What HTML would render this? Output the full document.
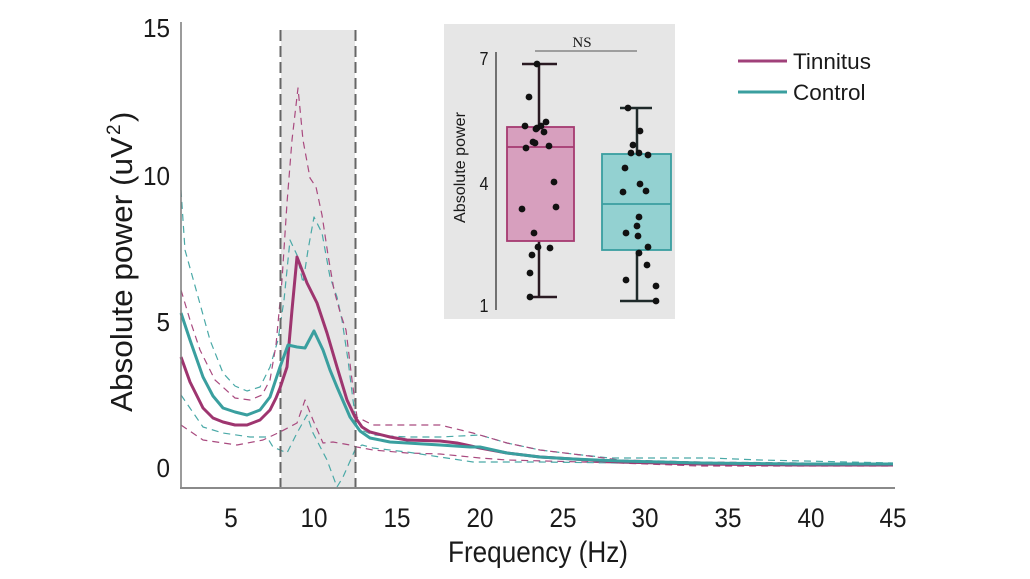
<!DOCTYPE html>
<html>
<head>
<meta charset="utf-8">
<style>
  html,body{margin:0;padding:0;background:#fff;}
  svg{display:block;}
  text{font-family:"Liberation Sans",Arial,sans-serif;fill:#1a1a1a;}
</style>
</head>
<body>
<svg width="1030" height="579" viewBox="0 0 1030 579" xmlns="http://www.w3.org/2000/svg">
  <rect x="0" y="0" width="1030" height="579" fill="#fff"/>

  <rect x="281" y="30" width="74" height="458" fill="#e6e6e6"/>

  <g fill="none" stroke-width="1.2" stroke-dasharray="7,5" stroke-linejoin="round">
    <polyline stroke="#4aa9a7" points="181,190 185,250 197,293 210,340 223,373 235,386 247,391 260,387 270,367 278,340 284,300 290,240 297,255 303,283 308,250 314,217 322,233 330,277 337,297 342,320 348,360 353,400 357,428 373,435 407,437 440,437 480,435 507,443 540,450 573,454 610,458 710,458 760,460 893,463"/>
    <polyline stroke="#a94a7f" points="181,290 190,320 200,350 215,380 235,398 250,400 262,395 270,380 276,345 282,280 287,203 292,140 298,88 303,140 310,178 316,187 322,215 328,255 334,290 340,312 346,330 352,380 357,417 373,425 440,425 473,433 507,443 540,450 573,454 620,460 700,462 800,463 893,465"/>
    <polyline stroke="#a94a7f" points="181,425 203,440 237,445 263,440 280,432 297,423 305,400 313,420 323,443 333,442 350,445 357,447 373,450 407,453 440,454 480,458 507,460 620,463 700,466 893,466"/>
    <polyline stroke="#4aa9a7" points="181,395 203,427 223,433 250,437 267,437 273,447 287,453 297,433 307,415 313,433 327,460 337,487 343,477 355,450 362,445 373,448 407,452 440,457 473,462 540,462 620,463 893,465"/>
  </g>

  <line x1="280.5" y1="30" x2="280.5" y2="488" stroke="#666" stroke-width="2" stroke-dasharray="11,5"/>
  <line x1="355.5" y1="30" x2="355.5" y2="488" stroke="#666" stroke-width="2" stroke-dasharray="11,5"/>

  <polyline fill="none" stroke="#9e356f" stroke-width="3" stroke-linejoin="round" points="181,357 190,382 203,408 213,418 223,422 235,425 247,425 260,420 270,410 276,398 280,388 287,367 292,310 297,257 302,270 307,283 317,303 327,333 337,367 347,400 355,417 362,427 370,432 390,437 407,440 440,441 457,443 480,448 507,453 540,457 573,459 620,462 700,464 800,465 893,465"/>
  <polyline fill="none" stroke="#3a9f9f" stroke-width="3" stroke-linejoin="round" points="181,313 190,340 203,377 213,396 223,408 235,412 247,415 260,410 270,397 280,367 288,345 297,347 305,348 314,331 323,350 330,370 337,387 350,417 360,431 370,438 390,442 407,443 440,445 470,447 480,447 507,453 540,457 573,459 620,461 700,463 800,464 893,464"/>

  <line x1="181" y1="22" x2="181" y2="489" stroke="#7a7a7a" stroke-width="1.5"/>
  <line x1="180" y1="488" x2="895" y2="488" stroke="#8a8a8a" stroke-width="2"/>

  <g font-size="26" text-anchor="end">
    <text x="170" y="37" textLength="27" lengthAdjust="spacingAndGlyphs">15</text>
    <text x="170" y="185" textLength="27" lengthAdjust="spacingAndGlyphs">10</text>
    <text x="170" y="331" textLength="13.5" lengthAdjust="spacingAndGlyphs">5</text>
    <text x="170" y="477" textLength="13.5" lengthAdjust="spacingAndGlyphs">0</text>
  </g>

  <g font-size="27" text-anchor="middle">
    <text x="231" y="527" textLength="13.5" lengthAdjust="spacingAndGlyphs">5</text>
    <text x="314" y="527" textLength="27" lengthAdjust="spacingAndGlyphs">10</text>
    <text x="397" y="527" textLength="27" lengthAdjust="spacingAndGlyphs">15</text>
    <text x="480" y="527" textLength="27" lengthAdjust="spacingAndGlyphs">20</text>
    <text x="563" y="527" textLength="27" lengthAdjust="spacingAndGlyphs">25</text>
    <text x="645" y="527" textLength="27" lengthAdjust="spacingAndGlyphs">30</text>
    <text x="728" y="527" textLength="27" lengthAdjust="spacingAndGlyphs">35</text>
    <text x="811" y="527" textLength="27" lengthAdjust="spacingAndGlyphs">40</text>
    <text x="893" y="527" textLength="27" lengthAdjust="spacingAndGlyphs">45</text>
  </g>

  <text x="448" y="562" font-size="30" textLength="180" lengthAdjust="spacingAndGlyphs">Frequency (Hz)</text>
  <g transform="translate(132,412) rotate(-90)">
    <text x="0" y="0" font-size="31" textLength="275" lengthAdjust="spacingAndGlyphs">Absolute power (uV</text>
    <text x="277" y="-12" font-size="19">2</text>
    <text x="290" y="0" font-size="31">)</text>
  </g>

  <line x1="738" y1="61" x2="787" y2="61" stroke="#a0407a" stroke-width="3"/>
  <line x1="738" y1="92" x2="787" y2="92" stroke="#3a9f9f" stroke-width="3"/>
  <text x="793" y="69" font-size="22.5">Tinnitus</text>
  <text x="793" y="100" font-size="22.5">Control</text>

  <rect x="444" y="24" width="231" height="295" fill="#e6e6e6"/>
  <line x1="496" y1="52" x2="496" y2="310" stroke="#333" stroke-width="1.3"/>
  <g font-size="18" text-anchor="middle">
    <text x="484" y="65" textLength="9" lengthAdjust="spacingAndGlyphs">7</text>
    <text x="484" y="190" textLength="9" lengthAdjust="spacingAndGlyphs">4</text>
    <text x="484" y="312" textLength="9" lengthAdjust="spacingAndGlyphs">1</text>
  </g>
  <text transform="translate(465,223) rotate(-90)" x="0" y="0" font-size="15.5" textLength="111" lengthAdjust="spacingAndGlyphs">Absolute power</text>
  <text x="582" y="47" font-size="15" text-anchor="middle" style="font-family:'Liberation Serif',serif">NS</text>
  <line x1="535" y1="51" x2="637" y2="51" stroke="#555" stroke-width="1"/>

  <g stroke="#2a1a22" stroke-width="2.5">
    <line x1="539" y1="64" x2="539" y2="297"/>
    <line x1="522" y1="64" x2="557" y2="64"/>
    <line x1="527" y1="297" x2="557" y2="297"/>
  </g>
  <rect x="507" y="127" width="67" height="114" fill="#d79fbe" stroke="#a53a70" stroke-width="1.8"/>
  <line x1="507" y1="147" x2="574" y2="147" stroke="#a53a70" stroke-width="1.8"/>

  <g stroke="#1f2a2a" stroke-width="2.5">
    <line x1="637" y1="108" x2="637" y2="301"/>
    <line x1="620" y1="108" x2="652" y2="108"/>
    <line x1="620" y1="301" x2="657" y2="301"/>
  </g>
  <rect x="602" y="154" width="69" height="96" fill="#93d1d1" stroke="#3a9ea0" stroke-width="1.8"/>
  <line x1="602" y1="204" x2="671" y2="204" stroke="#3a9ea0" stroke-width="1.8"/>

  <g fill="#111">
    <circle cx="537" cy="64" r="3.4"/>
    <circle cx="529" cy="97" r="3.4"/>
    <circle cx="525" cy="126" r="3.4"/>
    <circle cx="537" cy="128" r="3.4"/>
    <circle cx="541" cy="126" r="3.4"/>
    <circle cx="546" cy="122" r="3.4"/>
    <circle cx="544" cy="132" r="3.4"/>
    <circle cx="536" cy="129" r="3.4"/>
    <circle cx="533" cy="142" r="3.4"/>
    <circle cx="535" cy="143" r="3.4"/>
    <circle cx="526" cy="148" r="3.4"/>
    <circle cx="549" cy="146" r="3.4"/>
    <circle cx="554" cy="182" r="3.4"/>
    <circle cx="522" cy="209" r="3.4"/>
    <circle cx="556" cy="207" r="3.4"/>
    <circle cx="534" cy="233" r="3.4"/>
    <circle cx="538" cy="247" r="3.4"/>
    <circle cx="550" cy="248" r="3.4"/>
    <circle cx="532" cy="255" r="3.4"/>
    <circle cx="530" cy="273" r="3.4"/>
    <circle cx="530" cy="297" r="3.4"/>
    <circle cx="628" cy="108" r="3.4"/>
    <circle cx="640" cy="131" r="3.4"/>
    <circle cx="633" cy="145" r="3.4"/>
    <circle cx="631" cy="153" r="3.4"/>
    <circle cx="639" cy="153" r="3.4"/>
    <circle cx="648" cy="155" r="3.4"/>
    <circle cx="625" cy="168" r="3.4"/>
    <circle cx="640" cy="184" r="3.4"/>
    <circle cx="623" cy="192" r="3.4"/>
    <circle cx="646" cy="191" r="3.4"/>
    <circle cx="639" cy="217" r="3.4"/>
    <circle cx="637" cy="226" r="3.4"/>
    <circle cx="626" cy="233" r="3.4"/>
    <circle cx="638" cy="236" r="3.4"/>
    <circle cx="648" cy="247" r="3.4"/>
    <circle cx="639" cy="253" r="3.4"/>
    <circle cx="647" cy="265" r="3.4"/>
    <circle cx="626" cy="280" r="3.4"/>
    <circle cx="656" cy="286" r="3.4"/>
    <circle cx="656" cy="301" r="3.4"/>
  </g>
</svg>
</body>
</html>
